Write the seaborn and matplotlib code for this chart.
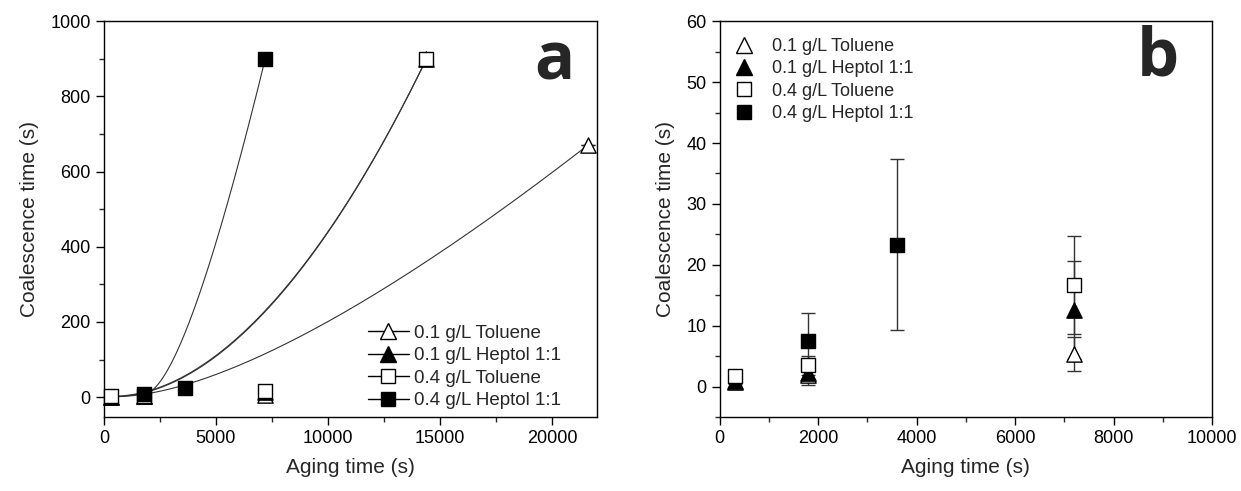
import numpy as np
import pandas as pd
import matplotlib
matplotlib.use("Agg")
import matplotlib.pyplot as plt
import seaborn as sns
from math import comb
from matplotlib.ticker import MultipleLocator
from matplotlib.lines import Line2D

# aging time (s), coalescence time (s), std dev (s)
labels = ["0.1 g/L Toluene", "0.1 g/L Heptol 1:1", "0.4 g/L Toluene", "0.4 g/L Heptol 1:1"]

t_tol01 = [300, 1800, 7200, 21600]
y_tol01 = [0.8, 1.9, 5.3, 670]
e_tol01 = [0.8, 1.0, 2.8, 0]

t_hep01 = [300, 1800, 7200, 14400]
y_hep01 = [0.9, 2.2, 12.6, 900]
e_hep01 = [0.5, 1.9, 8.0, 0]

t_tol04 = [300, 1800, 7200, 14400]
y_tol04 = [1.8, 3.5, 16.7, 900]
e_tol04 = [1.0, 1.6, 8.0, 0]

t_hep04 = [1800, 3600, 7200]
y_hep04 = [7.5, 23.3, 900]
e_hep04 = [4.6, 14.0, 0]

markers = ["^", "^", "s", "s"]
filled = [False, True, False, True]

series = [(t_tol01, y_tol01, e_tol01), (t_hep01, y_hep01, e_hep01),
          (t_tol04, y_tol04, e_tol04), (t_hep04, y_hep04, e_hep04)]

frames = []
for lab, (t, y, e) in zip(labels, series):
    frames.append(pd.DataFrame({"series": lab, "t": t, "y": y, "err": e}))
df = pd.concat(frames, ignore_index=True)


def bspline(x, y, n=200):
    # Bezier curve with the data points as control points (Origin-style B-spline)
    pts = np.column_stack([x, y]).astype(float)
    deg = len(pts) - 1
    s = np.linspace(0, 1, n)
    out = np.zeros((n, 2))
    for i, p in enumerate(pts):
        out += np.outer(comb(deg, i) * s**i * (1 - s)**(deg - i), p)
    return out[:, 0], out[:, 1]


sns.set_theme(style="ticks")
plt.rcParams['font.family'] = ['Liberation Sans', 'DejaVu Sans']

fig = plt.figure(figsize=(12.41, 4.91), dpi=100)
ax_a = fig.add_axes([0.0838, 0.1507, 0.397, 0.806])
ax_b = fig.add_axes([0.580, 0.1507, 0.3966, 0.806])

for i, lab in enumerate(labels):
    d = df[df["series"] == lab]
    fc = "black" if filled[i] else "white"
    ms = 11 if markers[i] == "^" else 10
    cx, cy = bspline(d["t"].values, d["y"].values)
    ax_a.plot(cx, cy, color="#333333", lw=0.8, zorder=2)
    for ax in (ax_a, ax_b):
        ax.errorbar(d["t"], d["y"], yerr=d["err"], fmt="none", ecolor="#333333",
                    elinewidth=1, capsize=5, capthick=1, zorder=3)
        sns.scatterplot(x=d["t"].values, y=d["y"].values, ax=ax, marker=markers[i],
                        s=ms**2, facecolor=fc, edgecolor="black", linewidth=1,
                        zorder=4 + i, clip_on=(ax is ax_b), legend=False)

h_a = [Line2D([], [], color="black", lw=1, marker=markers[i], ms=11 if markers[i] == "^" else 10,
              mfc="black" if filled[i] else "white", mec="black") for i in range(4)]
h_b = [Line2D([], [], ls="none", marker=markers[i], ms=11 if markers[i] == "^" else 10,
              mfc="black" if filled[i] else "white", mec="black") for i in range(4)]

ax_a.legend(h_a, labels, loc="lower left", bbox_to_anchor=(0.535, 0.02), frameon=False,
            fontsize=13.5, handlelength=2.2, handletextpad=0.25, labelspacing=0.28,
            borderpad=0, borderaxespad=0)
ax_b.legend(h_b, labels, loc="upper left", bbox_to_anchor=(0.022, 0.958), frameon=False,
            fontsize=13, handlelength=1.5, handletextpad=0.8, labelspacing=0.3,
            borderpad=0, borderaxespad=0)

# axes a
ax_a.set_xlim(0, 22000)
ax_a.set_ylim(-53, 1000)
ax_a.xaxis.set_major_locator(MultipleLocator(5000))
ax_a.xaxis.set_minor_locator(MultipleLocator(2500))
ax_a.yaxis.set_major_locator(MultipleLocator(200))
ax_a.yaxis.set_minor_locator(MultipleLocator(100))

# axes b
ax_b.set_xlim(0, 10000)
ax_b.set_ylim(-5, 60)
ax_b.xaxis.set_major_locator(MultipleLocator(2000))
ax_b.xaxis.set_minor_locator(MultipleLocator(1000))
ax_b.yaxis.set_major_locator(MultipleLocator(10))
ax_b.yaxis.set_minor_locator(MultipleLocator(5))

for ax, letter, lx, ly in ((ax_a, "a", 0.915, 0.898), (ax_b, "b", 0.89, 0.907)):
    for sp in ax.spines.values():
        sp.set_visible(True)
        sp.set_color("black")
        sp.set_linewidth(1.0)
    ax.tick_params(which="major", direction="out", length=6, width=1, labelsize=13,
                   colors="black", top=False, right=False)
    ax.tick_params(which="minor", direction="out", length=3.5, width=1, top=False, right=False)
    ax.set_xlabel("Aging time (s)", fontsize=15, labelpad=8)
    ax.set_ylabel("Coalescence time (s)", fontsize=15, labelpad=8)
    ax.text(lx, ly, letter, transform=ax.transAxes, ha="center", va="center",
            fontsize=48, fontweight="bold", family=["Open Sans", "DejaVu Sans"])

fig.savefig("out.png", dpi=100)
